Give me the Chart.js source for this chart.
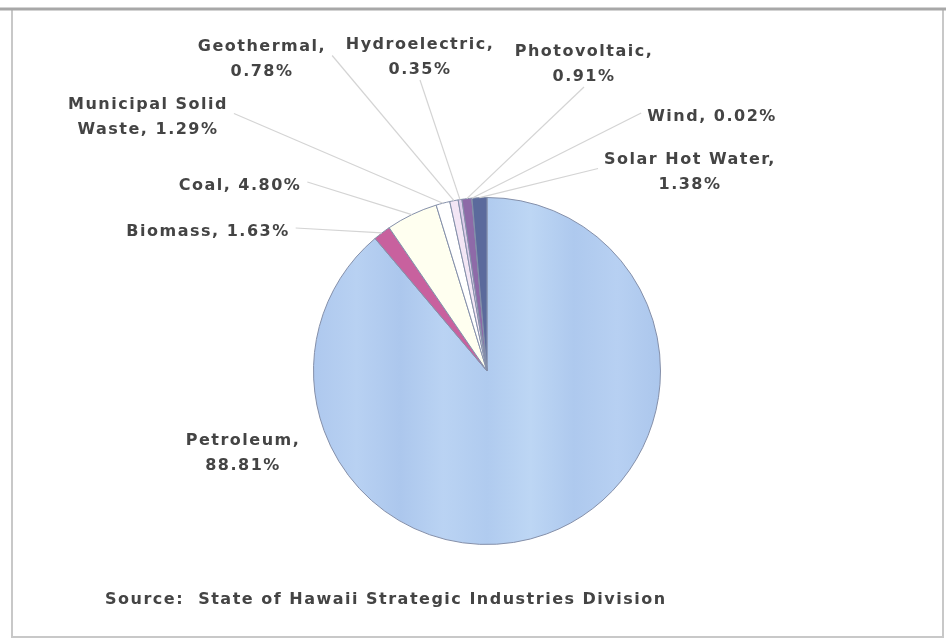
<!DOCTYPE html>
<html>
<head>
<meta charset="utf-8">
<script src="https://cdn.jsdelivr.net/npm/chart.js@4"></script>
<style>
  html, body { margin: 0; padding: 0; background: #ffffff; }
  #wrap { position: relative; width: 946px; height: 640px; }
</style>
</head>
<body>
<div id="wrap"><canvas id="c" width="946" height="640"></canvas></div>
<script>
// ---- data ----
const categories = ['Petroleum', 'Biomass', 'Coal', 'Municipal Solid Waste', 'Geothermal',
                    'Hydroelectric', 'Photovoltaic', 'Wind', 'Solar Hot Water'];
const shares = [88.81, 1.63, 4.80, 1.29, 0.78, 0.35, 0.91, 0.02, 1.38];
const sourceNote = 'Source:  State of Hawaii Strategic Industries Division';

// ---- styles / layout (not data) ----
const sliceColors = ['#b6cff0', '#c8619e', '#fffff0', '#ffffff', '#f3e6f5',
                     '#dccbea', '#8e6aa8', '#7470ac', '#5b6a9c'];
// label placement: centre x, first-line y, words before line break (0 = single line), leader anchor side
const labelLayout = [
  { x: 243, y: 441, brk: 1, anchor: 'none' },
  { x: 208, y: 232, brk: 0, anchor: 'right' },
  { x: 240, y: 186, brk: 0, anchor: 'right' },
  { x: 148, y: 105, brk: 2, anchor: 'right' },
  { x: 262, y: 47,  brk: 1, anchor: 'right' },
  { x: 420, y: 45,  brk: 1, anchor: 'bottom' },
  { x: 584, y: 52,  brk: 1, anchor: 'bottom' },
  { x: 712, y: 117, brk: 0, anchor: 'left' },
  { x: 690, y: 160, brk: 3, anchor: 'left' }
];
const FONT = 'bold 16px "DejaVu Sans", sans-serif';
const TEXT_COLOR = '#444444';
const LINE_H = 25;

function labelLines(i) {
  const words = (categories[i] + ', ' + shares[i].toFixed(2) + '%').split(' ');
  const b = labelLayout[i].brk;
  if (!b) return [words.join(' ')];
  return [words.slice(0, b).join(' '), words.slice(b).join(' ')];
}

const framePlugin = {
  id: 'frame',
  beforeDraw(chart) {
    const ctx = chart.ctx;
    ctx.save();
    ctx.fillStyle = '#ffffff';
    ctx.fillRect(0, 0, chart.width, chart.height);
    ctx.strokeStyle = '#c8c8c8';
    ctx.lineWidth = 2;
    ctx.strokeRect(12, 9, 931, 628);
    ctx.strokeStyle = '#a8a8a8';
    ctx.lineWidth = 3;
    ctx.beginPath(); ctx.moveTo(0, 9); ctx.lineTo(946, 9); ctx.stroke();
    ctx.restore();
  }
};

const calloutPlugin = {
  id: 'callouts',
  afterDatasetsDraw(chart) {
    const ctx = chart.ctx;
    const meta = chart.getDatasetMeta(0);
    ctx.save();
    ctx.font = FONT;
    if ('letterSpacing' in ctx) ctx.letterSpacing = '1.5px';
    meta.data.forEach((arc, i) => {
      const L = labelLayout[i];
      const lines = labelLines(i);
      const p = arc.getProps(['x', 'y', 'startAngle', 'endAngle', 'outerRadius'], true);
      const mid = (p.startAngle + p.endAngle) / 2;
      const ex = p.x + Math.cos(mid) * p.outerRadius;
      const ey = p.y + Math.sin(mid) * p.outerRadius;
      const widths = lines.map(t => ctx.measureText(t).width);
      const maxW = Math.max(...widths);
      if (L.anchor !== 'none') {
        let sx, sy;
        const blockMid = L.y - 4 + (lines.length - 1) * LINE_H / 2;
        if (L.anchor === 'right') { sx = L.x + maxW / 2 + 6; sy = blockMid; }
        else if (L.anchor === 'left') { sx = L.x - maxW / 2 - 6; sy = blockMid; }
        else { sx = L.x; sy = L.y + (lines.length - 1) * LINE_H + 10; }
        ctx.strokeStyle = '#d4d4d4';
        ctx.lineWidth = 1.2;
        ctx.beginPath(); ctx.moveTo(sx, sy); ctx.lineTo(ex, ey); ctx.stroke();
      }
      ctx.fillStyle = TEXT_COLOR;
      ctx.textAlign = 'center';
      ctx.textBaseline = 'middle';
      lines.forEach((t, k) => ctx.fillText(t, L.x, L.y + k * LINE_H));
    });
    // source note
    ctx.textAlign = 'left';
    ctx.textBaseline = 'middle';
    ctx.fillStyle = TEXT_COLOR;
    ctx.fillText(sourceNote, 105, 600);
    ctx.restore();
  }
};

function petroleumFill(context) {
  const chart = context.chart;
  const a = chart.chartArea;
  if (!a) return sliceColors[0];
  const g = chart.ctx.createLinearGradient(a.left, 0, a.right, 0);
  const tones = ['#aec8ee', '#b8d1f2', '#acc7ed', '#bad3f3', '#b0cbef', '#bdd6f4', '#aec9ee', '#b7d0f2', '#abc6ec'];
  tones.forEach((c, k) => g.addColorStop(k / (tones.length - 1), c));
  return g;
}

new Chart(document.getElementById('c'), {
  type: 'pie',
  data: {
    labels: categories,
    datasets: [{
      data: shares,
      backgroundColor: (ctx) => ctx.dataIndex === 0 ? petroleumFill(ctx) : sliceColors[ctx.dataIndex],
      borderColor: '#8590aa',
      borderWidth: 1
    }]
  },
  options: {
    responsive: false,
    animation: false,
    rotation: 0,
    layout: { padding: { left: 313, right: 285, top: 197, bottom: 95 } },
    plugins: { legend: { display: false }, tooltip: { enabled: false } }
  },
  plugins: [framePlugin, calloutPlugin]
});
</script>
</body>
</html>
